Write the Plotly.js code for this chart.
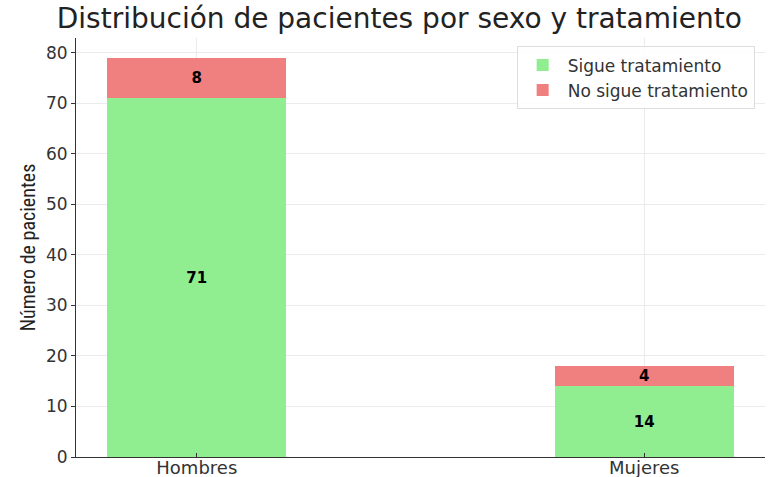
<!DOCTYPE html>
<html>
<head>
<meta charset="utf-8">
<script src="https://cdn.plot.ly/plotly-3.0.1.min.js"></script>
<style>body{margin:0;background:#fff}#chart{width:783px;height:477px}</style>
</head>
<body>
<div id="chart"></div>
<script>
const categories = ["Hombres", "Mujeres"];
const sigue = [71, 14];
const noSigue = [8, 4];
const seriesNames = ["Sigue tratamiento", "No sigue tratamiento"];

const font = "DejaVu Sans, sans-serif";
const barText = {family: font, size: 15, color: "#000", weight: "bold"};
const traces = [
  {
    type: "bar", name: seriesNames[0], x: [0, 1], y: sigue,
    marker: {color: "#90ee90"}, width: 0.4,
    text: sigue.map(String), textposition: "inside", insidetextanchor: "middle",
    textangle: 0, textfont: barText, constraintext: "none", hoverinfo: "none"
  },
  {
    type: "bar", name: seriesNames[1], x: [0, 1], y: noSigue,
    marker: {color: "#f08080"}, width: 0.4,
    text: noSigue.map(String), textposition: "inside", insidetextanchor: "middle",
    textangle: 0, textfont: barText, constraintext: "none", hoverinfo: "none"
  }
];

const layout = {
  width: 783, height: 477,
  barmode: "stack",
  margin: {l: 76, r: 18, t: 38, b: 20},
  paper_bgcolor: "#fff", plot_bgcolor: "#fff",
  title: {text: "Distribución de pacientes por sexo y tratamiento", x: 0.51, xanchor: "center", y: 0.962, yanchor: "middle",
          font: {family: font, size: 28, color: "#222"}},
  xaxis: {
    range: [-0.27, 1.27], tickvals: [0, 1], ticktext: categories,
    showgrid: true, gridcolor: "#ebebeb", zeroline: false,
    showline: true, linecolor: "#333", linewidth: 1,
    ticks: "inside", ticklen: 4, tickcolor: "#333",
    ticklabelstandoff: -6,
    tickfont: {family: font, size: 18, color: "#333"}
  },
  yaxis: {
    range: [0, 82.95], tickvals: [0,10,20,30,40,50,60,70,80],
    showgrid: true, gridcolor: "#ebebeb", zeroline: false,
    showline: true, linecolor: "#333", linewidth: 1,
    ticks: "outside", ticklen: 4, tickcolor: "#333",
    tickfont: {family: font, size: 17, color: "#333"},
    title: {text: "Número de pacientes", standoff: 4,
            font: {family: "Liberation Sans Narrow, Roboto Condensed, Liberation Sans, sans-serif", size: 20, color: "#222"}}
  },
  legend: {
    x: 0.985, xanchor: "right", y: 0.98, yanchor: "top",
    bgcolor: "rgba(255,255,255,0.9)", bordercolor: "#dddddd", borderwidth: 1,
    font: {family: font, size: 17, color: "#333"}, traceorder: "normal",
    tracegroupgap: 0, itemwidth: 40
  },
  showlegend: true
};

Plotly.newPlot("chart", traces, layout, {displayModeBar: false, staticPlot: true});
</script>
</body>
</html>
